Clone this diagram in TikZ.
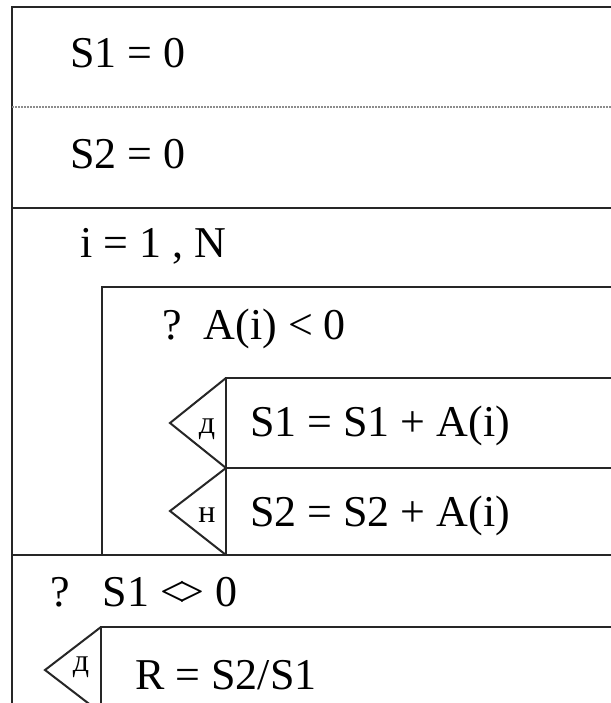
\documentclass[tikz,border=0pt]{standalone}
\usepackage{fontspec}
\setmainfont{Liberation Serif}
\begin{document}
\begin{tikzpicture}[x=1pt,y=-1pt,
  frame/.style={draw=black!85,line width=2pt},
  dotline/.style={draw=black!45,line width=1.2pt,dash pattern=on 1.5pt off 1.5pt},
  txt/.style={anchor=base west,inner sep=0pt,font=\fontsize{44}{48}\selectfont},
  lbl/.style={anchor=base,inner sep=0pt,font=\fontsize{32}{34}\selectfont}]
\useasboundingbox (0,0) rectangle (610,703);
\fill[white] (0,0) rectangle (610,703);
% outer frame
\coordinate (o1) at (12,705);
\coordinate (o2) at (12,7);
\coordinate (o3) at (612,7);
\draw[frame] (o1) -- (o2) -- (o3);
\coordinate (d1) at (12,107); \coordinate (d2) at (612,107);
\draw[dotline] (d1) -- (d2);
\coordinate (s1) at (12,208); \coordinate (s2) at (612,208);
\draw[frame] (s1) -- (s2);
% loop box
\coordinate (l1) at (102,555); \coordinate (l2) at (102,287); \coordinate (l3) at (612,287);
\draw[frame] (l1) -- (l2) -- (l3);
\coordinate (e1) at (12,555); \coordinate (e2) at (612,555);
\draw[frame] (e1) -- (e2);
% if branches
\coordinate (b1) at (226,555); \coordinate (b2) at (226,378); \coordinate (b3) at (612,378);
\draw[frame] (b1) -- (b2) -- (b3);
\coordinate (m1) at (226,468); \coordinate (m2) at (612,468);
\draw[frame] (m1) -- (m2);
\coordinate (t1) at (170,423); \coordinate (t2) at (170,511);
\draw[frame] (b2) -- (t1) -- (m1) -- (t2) -- (b1);
% second if
\coordinate (c1) at (101,705); \coordinate (c2) at (101,627); \coordinate (c3) at (612,627);
\draw[frame] (c1) -- (c2) -- (c3);
\coordinate (t3) at (45,670); \coordinate (t4) at (101,713);
\draw[frame] (c2) -- (t3) -- (t4);
% texts
\node[txt] (n1) at (70,68) {S1 = 0};
\node[txt] (n2) at (70,169) {S2 = 0};
\node[txt] (n3) at (80,257) {i = 1 , N};
\node[txt] (n4) at (162,339) {?\hspace{22pt}A(i) < 0};
\node[txt] (n5) at (250,436) {S1 = S1 + A(i)};
\node[txt] (n6) at (250,526) {S2 = S2 + A(i)};
\node[txt] (n7) at (50,606) {?\hspace{33pt}S1 {<}\kern-0.12em{>} 0};
\node[txt] (n8) at (135,689) {R = S2/S1};
\node[lbl] (y1) at (207,433) {д};
\node[lbl] (y2) at (207,522) {н};
\node[lbl] (y3) at (81,671) {д};
\end{tikzpicture}
\end{document}
